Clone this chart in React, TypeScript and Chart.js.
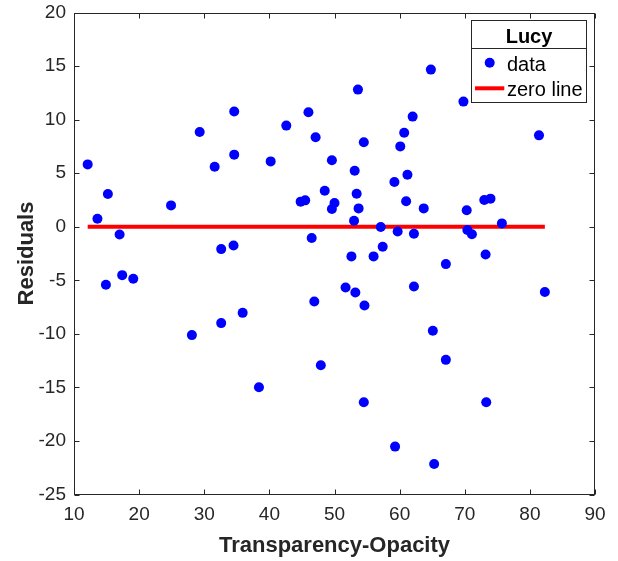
import React, { useEffect, useRef } from "react";
import { Chart, registerables } from "chart.js";

Chart.register(...registerables);

const dataX = [
  12.1, 13.6, 15.2, 17.0, 24.9, 29.3, 34.6, 31.6, 34.6, 32.6, 34.5, 40.2,
  64.8, 53.6, 46.0, 42.6, 47.1, 69.8, 62.0, 60.7, 54.5, 60.1, 49.6, 53.1,
  61.2, 59.2, 48.5, 53.4, 44.8, 45.5, 50.0, 49.6, 53.7, 61.0, 63.7, 53.0,
  57.1, 59.7, 62.2, 46.5, 57.4, 52.6, 56.0, 81.4, 73.0, 73.95, 70.3, 75.7,
  70.4, 71.1, 73.2, 14.9, 17.4, 19.1, 28.1, 32.6, 35.9, 38.4, 67.1, 51.7,
  53.2, 62.2, 46.9, 54.6, 65.1, 67.1, 47.9, 54.5, 59.3, 65.3, 82.3, 73.3,
];
const dataY = [
  5.82, 0.75, 3.06, -0.72, 1.99, 8.85, 10.75, 5.6, 6.73, -2.09, -1.75, 6.1,
  14.67, 12.8, 10.68, 9.44, 8.35, 11.68, 10.28, 8.78, 7.88, 7.5, 6.2, 5.23,
  4.86, 4.17, 3.36, 3.08, 2.34, 2.46, 2.21, 1.65, 1.71, 2.37, 1.71, 0.56,
  -0.03, -0.44, -0.65, -1.06, -1.87, -2.77, -2.77, 8.53, 2.49, 2.62, 1.53, 0.31,
  -0.3, -0.7, -2.59, -5.42, -4.52, -4.86, -10.12, -9.0, -8.04, -14.98, -3.49, -5.67,
  -6.14, -5.58, -6.98, -7.35, -9.72, -12.43, -12.93, -16.38, -20.53, -22.15, -6.1, -16.38,
];
const zeroLineX = [12.1, 82.3];
const zeroLineY = [0, 0];

const xTicks = [10, 20, 30, 40, 50, 60, 70, 80, 90];
const yTicks = [-25, -20, -15, -10, -5, 0, 5, 10, 15, 20];

const xTitle = "Transparency-Opacity";
const yTitle = "Residuals";
const legendTitle = "Lucy";
const legendLabels = ["data", "zero line"];

const AXIS_COLOR = "#262626";
const FONT = "'Liberation Sans', Arial, Helvetica, sans-serif";

const framePlugin = {
  id: "frame",
  beforeDatasetsDraw(chart: any) {
    const { ctx, chartArea } = chart;
    const xs = chart.scales.x;
    const ys = chart.scales.y;
    const l = Math.round(chartArea.left) + 0.5;
    const r = Math.round(chartArea.right) - 0.5;
    const t = Math.round(chartArea.top) + 0.5;
    const b = Math.round(chartArea.bottom) - 0.5;
    ctx.save();
    ctx.strokeStyle = AXIS_COLOR;
    ctx.lineWidth = 1;
    ctx.strokeRect(l, t, r - l, b - t);
    const tl = 5;
    ctx.beginPath();
    xTicks.forEach((v) => {
      const px = Math.round(xs.getPixelForValue(v)) + 0.5;
      ctx.moveTo(px, b);
      ctx.lineTo(px, b - tl);
      ctx.moveTo(px, t);
      ctx.lineTo(px, t + tl);
    });
    yTicks.forEach((v) => {
      const py = Math.round(ys.getPixelForValue(v)) + 0.5;
      ctx.moveTo(l, py);
      ctx.lineTo(l + tl, py);
      ctx.moveTo(r, py);
      ctx.lineTo(r - tl, py);
    });
    ctx.stroke();

    // axis titles
    ctx.fillStyle = AXIS_COLOR;
    ctx.font = `bold 22px ${FONT}`;
    ctx.textAlign = "center";
    ctx.textBaseline = "alphabetic";
    ctx.fillText(xTitle, (chartArea.left + chartArea.right) / 2, 551.5);
    ctx.save();
    ctx.translate(33, (chartArea.top + chartArea.bottom) / 2);
    ctx.rotate(-Math.PI / 2);
    ctx.fillText(yTitle, 0, 0);
    ctx.restore();
    ctx.restore();
  },
  afterDraw(chart: any) {
    const { ctx } = chart;
    ctx.save();
    const bx = 471.5, by = 20.5, bw = 115, bh = 82;
    ctx.fillStyle = "#ffffff";
    ctx.fillRect(bx, by, bw, bh);
    ctx.strokeStyle = AXIS_COLOR;
    ctx.lineWidth = 1;
    ctx.strokeRect(bx, by, bw, bh);
    ctx.beginPath();
    ctx.moveTo(bx, 48.5);
    ctx.lineTo(bx + bw, 48.5);
    ctx.stroke();

    ctx.fillStyle = "#000000";
    ctx.font = `bold 20px ${FONT}`;
    ctx.textAlign = "center";
    ctx.textBaseline = "alphabetic";
    ctx.fillText(legendTitle, bx + bw / 2, 42.5);

    ctx.font = `20px ${FONT}`;
    ctx.textAlign = "left";
    ctx.fillText(legendLabels[0], 507, 71);
    ctx.fillText(legendLabels[1], 507, 95.5);

    ctx.fillStyle = "#0000ff";
    ctx.beginPath();
    ctx.arc(489.7, 62.7, 5, 0, Math.PI * 2);
    ctx.fill();

    ctx.strokeStyle = "#ff0000";
    ctx.lineWidth = 4;
    ctx.beginPath();
    ctx.moveTo(475, 88.3);
    ctx.lineTo(504.3, 88.3);
    ctx.stroke();
    ctx.restore();
  },
};

export default function App() {
  const ref = useRef<HTMLCanvasElement | null>(null);
  useEffect(() => {
    if (!ref.current) return;
    const scatterPts = dataX.map((x, i) => ({ x, y: dataY[i] }));
    const linePts = zeroLineX.map((x, i) => ({ x, y: zeroLineY[i] }));
    const chart = new Chart(ref.current, {
      type: "scatter",
      data: {
        datasets: [
          {
            label: legendLabels[0],
            data: scatterPts,
            backgroundColor: "#0000ff",
            borderColor: "#0000ff",
            borderWidth: 0,
            pointRadius: 5,
            order: 0,
          },
          {
            type: "line",
            label: legendLabels[1],
            data: linePts,
            borderColor: "#ff0000",
            backgroundColor: "#ff0000",
            borderWidth: 4,
            pointRadius: 0,
            showLine: true,
            fill: false,
            order: 1,
          } as any,
        ],
      },
      options: {
        animation: false,
        responsive: false,
        devicePixelRatio: 1,
        layout: { padding: { top: 12.5, right: 23, left: 0, bottom: 0 } },
        plugins: {
          legend: { display: false },
          tooltip: { enabled: false },
        },
        scales: {
          x: {
            type: "linear",
            min: 10,
            max: 90,
            afterBuildTicks: (s: any) => {
              s.ticks = xTicks.map((v) => ({ value: v }));
            },
            afterFit: (s: any) => {
              s.height = 66.5;
              s.paddingLeft = 0;
              s.paddingRight = 0;
            },
            grid: { display: false, drawTicks: false, tickLength: 0 },
            border: { display: false },
            ticks: {
              color: AXIS_COLOR,
              font: { family: FONT, size: 19 },
              padding: 9,
              maxRotation: 0,
              autoSkip: false,
            },
          },
          y: {
            type: "linear",
            min: -25,
            max: 20,
            afterBuildTicks: (s: any) => {
              s.ticks = yTicks.map((v) => ({ value: v }));
            },
            afterFit: (s: any) => {
              s.width = 74;
              s.paddingTop = 0;
              s.paddingBottom = 0;
            },
            grid: { display: false, drawTicks: false, tickLength: 0 },
            border: { display: false },
            ticks: {
              color: AXIS_COLOR,
              font: { family: FONT, size: 19 },
              padding: 8,
              autoSkip: false,
            },
          },
        },
      },
      plugins: [framePlugin],
    });
    return () => chart.destroy();
  }, []);
  return (
    <div style={{ position: "absolute", left: 0, top: 0, width: 618, height: 561, background: "#fff" }}>
      <canvas ref={ref} width={618} height={561} style={{ display: "block" }} />
    </div>
  );
}
